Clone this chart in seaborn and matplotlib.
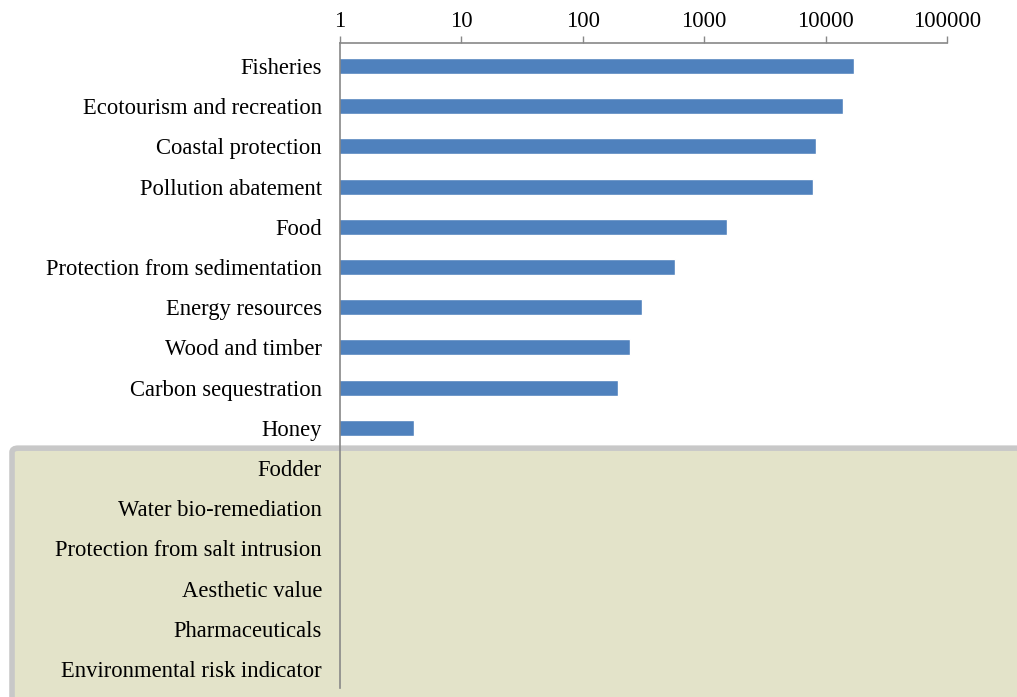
import matplotlib
matplotlib.use("Agg")
import matplotlib.pyplot as plt
import seaborn as sns
import numpy as np
import pandas as pd
from matplotlib.patches import FancyBboxPatch

services = ["Fisheries", "Ecotourism and recreation", "Coastal protection",
            "Pollution abatement", "Food", "Protection from sedimentation",
            "Energy resources", "Wood and timber", "Carbon sequestration",
            "Honey", "Fodder", "Water bio-remediation",
            "Protection from salt intrusion", "Aesthetic value",
            "Pharmaceuticals", "Environmental risk indicator"]
values = [17000, 13800, 8400, 7800, 1530, 570, 306, 244, 194, 4.1,
          np.nan, np.nan, np.nan, np.nan, np.nan, np.nan]
tick_values = [1, 10, 100, 1000, 10000, 100000]
tick_labels = ["1", "10", "100", "1000", "10000", "100000"]

df = pd.DataFrame({"service": services, "value": values})

sns.set_style("white")
plt.rcParams["font.family"] = ["Liberation Serif", "DejaVu Serif"]
plt.rcParams["text.color"] = "black"
plt.rcParams["xtick.labelcolor"] = "black"
plt.rcParams["ytick.labelcolor"] = "black"

fig = plt.figure(figsize=(10.17, 6.97), dpi=100)

# shaded box behind the services without a value
box = FancyBboxPatch((0.0118 + 0.004, -0.05), 1.2, 0.357 + 0.05 - 0.004,
                     boxstyle="round,pad=0.004,rounding_size=0.006",
                     transform=fig.transFigure, facecolor="#e3e3c9",
                     edgecolor="#c8c8c8", linewidth=4, zorder=-1)
fig.patches.append(box)

ax = fig.add_axes([0.3343, 0.0129, 0.9312 - 0.3343, 0.9383 - 0.0129])
ax.set_facecolor("none")

sns.barplot(data=df, x="value", y="service", order=services, color="#4f81bd",
            width=0.4, saturation=1, ax=ax, orient="h")
ax.set_xscale("log")
ax.set_xlim(1, 100000)
ax.set_ylim(15.47, -0.57)

ax.set_xticks(tick_values)
ax.set_xticklabels(tick_labels)
ax.xaxis.set_minor_locator(matplotlib.ticker.NullLocator())
ax.xaxis.tick_top()
ax.tick_params(axis="x", which="major", length=5, width=1, color="#888888",
               labelsize=16.3, pad=3, direction="out")
ax.tick_params(axis="y", length=0, labelsize=16.3, pad=13)

for side in ["right", "bottom"]:
    ax.spines[side].set_visible(False)
for side in ["top", "left"]:
    ax.spines[side].set_visible(True)
    ax.spines[side].set_color("#888888")
    ax.spines[side].set_linewidth(1.2)

ax.set_xlabel("")
ax.set_ylabel("")

fig.savefig("out.png", dpi=100)
